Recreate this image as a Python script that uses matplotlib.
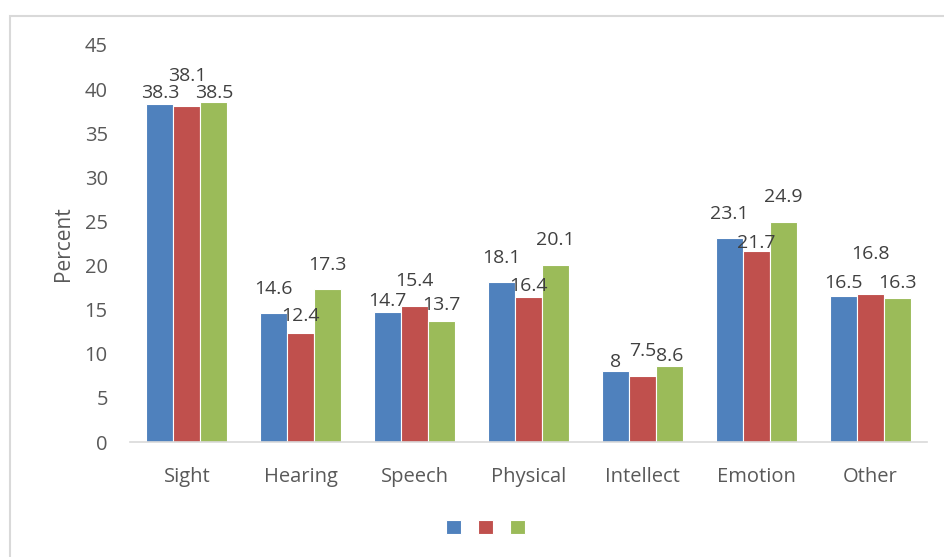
import numpy as np
import matplotlib.pyplot as plt
from matplotlib.patches import Rectangle

plt.rcParams['font.family'] = ['Open Sans', 'DejaVu Sans']

# Data
categories = ['Sight', 'Hearing', 'Speech', 'Physical', 'Intellect', 'Emotion', 'Other']
series_a = [38.3, 14.6, 14.7, 18.1, 8.0, 23.1, 16.5]
series_b = [38.1, 12.4, 15.4, 16.4, 7.5, 21.7, 16.8]
series_c = [38.5, 17.3, 13.7, 20.1, 8.6, 24.9, 16.3]
label_a = ['38.3', '14.6', '14.7', '18.1', '8', '23.1', '16.5']
label_b = ['38.1', '12.4', '15.4', '16.4', '7.5', '21.7', '16.8']
label_c = ['38.5', '17.3', '13.7', '20.1', '8.6', '24.9', '16.3']
yticks = [0, 5, 10, 15, 20, 25, 30, 35, 40, 45]

# label lift above bar top (pixels), mimicking Excel's collision nudges
lift_a = [11, 24, 11, 24, 9, 24, 13]
lift_b = [30, 17, 25, 11, 25, 8, 40]
lift_c = [9, 24, 16, 25, 10, 25, 15]

colors = ['#4F81BD', '#C0504D', '#9BBB59']
text_col = '#595959'

fig = plt.figure(figsize=(9.44, 5.57), dpi=100)
ax = fig.add_axes([130 / 944, 1 - 442 / 557, 797 / 944, 397 / 557])

x = np.arange(len(categories))
w = 0.237
groups = [(series_a, label_a, lift_a), (series_b, label_b, lift_b), (series_c, label_c, lift_c)]
handles = []
for i, (vals, labs, lifts) in enumerate(groups):
    bars = ax.bar(x + (i - 1) * w, vals, w, color=colors[i], edgecolor='white', linewidth=0.8)
    handles.append(bars)
    for b, lab, lift in zip(bars, labs, lifts):
        ax.annotate(lab, (b.get_x() + b.get_width() / 2, b.get_height()),
                    xytext=(0, lift), textcoords='offset pixels',
                    ha='center', va='center', fontsize=14, color='#404040')

ax.set_xlim(-0.5, len(categories) - 0.5)
ax.set_ylim(0, 45)
ax.set_yticks(yticks)
ax.set_xticks(x)
ax.set_xticklabels(categories)
ax.tick_params(axis='both', length=0, labelsize=14.5, colors=text_col)
ax.tick_params(axis='y', pad=16)
ax.tick_params(axis='x', pad=18)
for s in ['top', 'right', 'left']:
    ax.spines[s].set_visible(False)
ax.spines['bottom'].set_color('#d9d9d9')
ax.spines['bottom'].set_linewidth(1.2)

ax.set_ylabel('Percent', fontsize=15, color=text_col)
ax.yaxis.set_label_coords(-0.07, 0.5)

fig.legend(handles, ['', '', ''], loc='center', bbox_to_anchor=(485.5 / 944, 1 - 528 / 557),
           ncol=3, frameon=False, fontsize=11, handlelength=1, handleheight=1,
           handletextpad=0, columnspacing=1.1)

# chart area border
top = 1 - 16 / 557
fig.add_artist(Rectangle((10 / 944, -0.2), 1.2, top + 0.2, transform=fig.transFigure,
                         fill=False, edgecolor='#d9d9d9', linewidth=1.5))

fig.savefig('out.png', dpi=100)
